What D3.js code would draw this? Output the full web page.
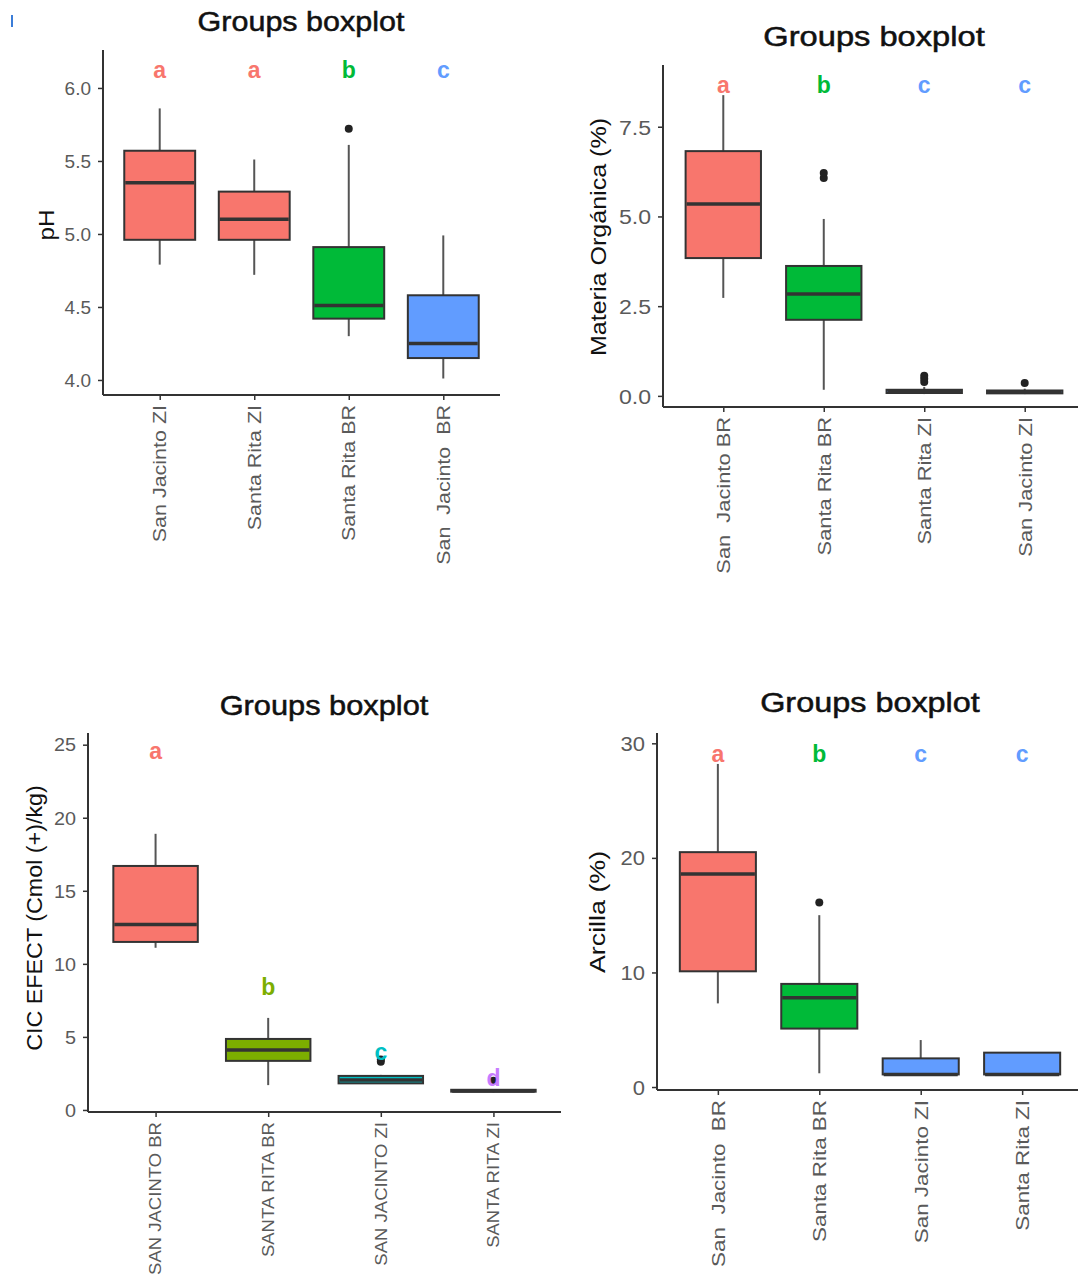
<!DOCTYPE html>
<html>
<head>
<meta charset="utf-8">
<script src="https://cdn.jsdelivr.net/npm/d3@7"></script>
<style>
  body { margin: 0; background: #fff; }
  svg { display: block; font-family: "Liberation Sans", Arial, sans-serif; }
</style>
</head>
<body>
<div id="canvas"></div>
<script>
// stats per box: [lower whisker, Q1, median, Q3, upper whisker]
const phCats = ["San Jacinto ZI", "Santa Rita ZI", "Santa Rita BR", "San  Jacinto  BR"];
const phStats = [[4.79, 4.96, 5.35, 5.57, 5.86], [4.72, 4.96, 5.10, 5.29, 5.51], [4.30, 4.42, 4.51, 4.91, 5.61], [4.01, 4.15, 4.25, 4.58, 4.99]];
const phOutliers = [[], [], [5.72], []];
const phLetters = ["a", "a", "b", "c"];
const phLetterY = [6.12, 6.12, 6.12, 6.12];
const phColors = ["#F8766D", "#F8766D", "#00BA38", "#619CFF"];

const moCats = ["San  Jacinto BR", "Santa Rita BR", "Santa Rita ZI", "San Jacinto ZI"];
const moStats = [[2.73, 3.84, 5.35, 6.82, 8.38], [0.17, 2.12, 2.84, 3.62, 4.93], [0.05, 0.08, 0.12, 0.17, 0.25], [0.05, 0.07, 0.11, 0.15, 0.2]];
const moOutliers = [[], [6.07, 6.21], [0.39, 0.48, 0.56], [0.36]];
const moLetters = ["a", "b", "c", "c"];
const moLetterY = [8.66, 8.66, 8.66, 8.66];
const moColors = ["#F8766D", "#00BA38", "#619CFF", "#619CFF"];

const cicCats = ["SAN JACINTO BR", "SANTA RITA BR", "SAN JACINTO ZI", "SANTA RITA ZI"];
const cicStats = [[11.1, 11.5, 12.7, 16.7, 18.9], [1.7, 3.36, 4.1, 4.86, 6.3], [1.8, 1.82, 2.05, 2.33, 2.4], [1.2, 1.25, 1.3, 1.38, 1.4]];
const cicOutliers = [[], [], [3.3, 3.45], [2.0]];
const cicLetters = ["a", "b", "c", "d"];
const cicLetterY = [24.6, 8.4, 4.0, 2.2];
const cicColors = ["#F8766D", "#7CAE00", "#00BFC4", "#C77CFF"];

const arcCats = ["San  Jacinto  BR", "Santa Rita BR", "San Jacinto ZI", "Santa Rita ZI"];
const arcStats = [[7.3, 10.1, 18.6, 20.5, 28.2], [1.2, 5.1, 7.8, 9.0, 15.0], [1.1, 1.1, 1.1, 2.5, 4.1], [1.1, 1.1, 1.1, 3.0, 3.0]];
const arcOutliers = [[], [16.1], [], []];
const arcLetters = ["a", "b", "c", "c"];
const arcLetterY = [29.1, 29.1, 29.1, 29.1];
const arcColors = ["#F8766D", "#00BA38", "#619CFF", "#619CFF"];

const svg = d3.select("#canvas").append("svg")
  .attr("width", 1078).attr("height", 1276);

// small blue artifact at top-left of the original screenshot
svg.append("rect").attr("x", 11).attr("y", 15).attr("width", 2).attr("height", 12).attr("fill", "#3b7dd8");

function drawPanel(p) {
  const g = svg.append("g");
  const x = d3.scaleLinear().domain([0.4, p.cats.length + 0.6]).range([p.left, p.right]);
  const y = d3.scaleLinear().domain(p.domain).range([p.bottom, p.top]);
  const bw = (x(1) - x(0)) * 0.75;

  // title
  g.append("text")
    .attr("transform", `translate(${p.titleX},${p.titleY}) scale(${p.titleSx},1)`)
    .attr("text-anchor", "middle").attr("font-size", 27).attr("fill", "#111")
    .attr("stroke", "#111").attr("stroke-width", 0.5)
    .text("Groups boxplot");

  // y label
  g.append("text")
    .attr("transform", `translate(${p.ylabX},${p.ylabY}) rotate(-90) scale(${p.ylabSx},1)`)
    .attr("text-anchor", "middle").attr("dominant-baseline", "central")
    .attr("font-size", 22).attr("fill", "#111")
    .attr("xml:space", "preserve").style("white-space", "pre")
    .text(p.ylab);

  p.stats.forEach((s, i) => {
    const cx = x(i + 1);
    // whiskers
    g.append("line").attr("x1", cx).attr("x2", cx).attr("y1", y(s[3])).attr("y2", y(s[4]))
      .attr("stroke", "#555").attr("stroke-width", 2);
    g.append("line").attr("x1", cx).attr("x2", cx).attr("y1", y(s[0])).attr("y2", y(s[1]))
      .attr("stroke", "#555").attr("stroke-width", 2);
    // box
    g.append("rect").attr("x", cx - bw / 2).attr("width", bw)
      .attr("y", y(s[3])).attr("height", Math.max(y(s[1]) - y(s[3]), 1))
      .attr("fill", p.colors[i]).attr("stroke", "#333").attr("stroke-width", 2);
    // median
    g.append("line").attr("x1", cx - bw / 2 + 1).attr("x2", cx + bw / 2 - 1)
      .attr("y1", y(s[2])).attr("y2", y(s[2]))
      .attr("stroke", "#333").attr("stroke-width", 3.5);
    // outliers
    p.outliers[i].forEach(o => {
      g.append("circle").attr("cx", cx).attr("cy", y(o)).attr("r", 4).attr("fill", "#222");
    });
    // letters
    g.append("text").attr("x", cx).attr("y", y(p.letterY[i]))
      .attr("text-anchor", "middle").attr("dominant-baseline", "central")
      .attr("font-size", 23).attr("font-weight", "bold").attr("fill", p.colors[i])
      .text(p.letters[i]);
  });

  // y axis
  const ya = g.append("g").attr("transform", `translate(${p.left},0)`)
    .call(d3.axisLeft(y).tickValues(p.ticks).tickSize(5).tickFormat(d3.format(p.fmt)));
  ya.select(".domain").remove();
  ya.selectAll(".tick line").attr("stroke", "#333").attr("stroke-width", 1.5);
  ya.selectAll(".tick text")
    .attr("x", 0).attr("dy", "0.35em")
    .attr("transform", `translate(-12,0) scale(${p.tickSx},1)`)
    .attr("font-size", p.tickFont).attr("fill", "#5a5a5a")
    .attr("font-family", "Liberation Sans, Arial, sans-serif");
  g.append("line").attr("x1", p.left).attr("x2", p.left).attr("y1", p.top).attr("y2", p.bottom)
    .attr("stroke", "#333").attr("stroke-width", 2);

  // x axis
  const xa = g.append("g").attr("transform", `translate(0,${p.bottom})`)
    .call(d3.axisBottom(x).tickValues(d3.range(1, p.cats.length + 1)).tickSize(5).tickFormat(""));
  xa.select(".domain").remove();
  xa.selectAll(".tick line").attr("stroke", "#333").attr("stroke-width", 1.5);
  g.append("line").attr("x1", p.left).attr("x2", p.right).attr("y1", p.bottom).attr("y2", p.bottom)
    .attr("stroke", "#333").attr("stroke-width", 2);

  p.cats.forEach((c, i) => {
    g.append("text")
      .attr("transform", `translate(${x(i + 1)},${p.bottom + 10}) rotate(-90) scale(${p.xlabSx},1)`)
      .attr("text-anchor", "end").attr("dominant-baseline", "central")
      .attr("font-size", p.xlabFont).attr("fill", "#5a5a5a")
      .attr("xml:space", "preserve").style("white-space", "pre")
      .text(c);
  });
}

drawPanel({
  cats: phCats, stats: phStats, outliers: phOutliers, letters: phLetters, letterY: phLetterY, colors: phColors,
  left: 103, right: 500, top: 50, bottom: 395, domain: [3.897, 6.26],
  ticks: [4, 4.5, 5, 5.5, 6], fmt: ".1f", tickFont: 19, tickSx: 1.0,
  titleX: 301, titleY: 31, titleSx: 1.13,
  ylab: "pH", ylabX: 46, ylabY: 225, ylabSx: 1.1,
  xlabFont: 19, xlabSx: 1.13
});
drawPanel({
  cats: moCats, stats: moStats, outliers: moOutliers, letters: moLetters, letterY: moLetterY, colors: moColors,
  left: 663, right: 1085, top: 65, bottom: 407, domain: [-0.31, 9.22],
  ticks: [0, 2.5, 5, 7.5], fmt: ".1f", tickFont: 21, tickSx: 1.1,
  titleX: 874, titleY: 46, titleSx: 1.21,
  ylab: "Materia Orgánica (%)", ylabX: 599, ylabY: 237, ylabSx: 1.14,
  xlabFont: 19, xlabSx: 1.15
});
drawPanel({
  cats: cicCats, stats: cicStats, outliers: cicOutliers, letters: cicLetters, letterY: cicLetterY, colors: cicColors,
  left: 88, right: 561, top: 733, bottom: 1112, domain: [-0.14, 25.8],
  ticks: [0, 5, 10, 15, 20, 25], fmt: "d", tickFont: 18, tickSx: 1.1,
  titleX: 324, titleY: 715, titleSx: 1.14,
  ylab: "CIC EFECT (Cmol (+)/kg)", ylabX: 34, ylabY: 918, ylabSx: 1.06,
  xlabFont: 17, xlabSx: 1.09
});
drawPanel({
  cats: arcCats, stats: arcStats, outliers: arcOutliers, letters: arcLetters, letterY: arcLetterY, colors: arcColors,
  left: 657, right: 1083, top: 733, bottom: 1090, domain: [-0.26, 30.9],
  ticks: [0, 10, 20, 30], fmt: "d", tickFont: 20, tickSx: 1.1,
  titleX: 870, titleY: 712, titleSx: 1.2,
  ylab: "Arcilla (%)", ylabX: 597, ylabY: 912, ylabSx: 1.22,
  xlabFont: 19, xlabSx: 1.18
});
</script>
</body>
</html>
